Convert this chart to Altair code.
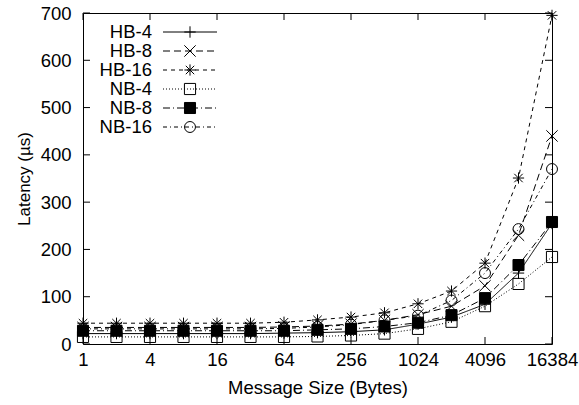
import altair as alt
import pandas as pd

sizes = [1, 2, 4, 8, 16, 32, 64, 128, 256, 512, 1024, 2048, 4096, 8192, 16384]
series_names = ["HB-4", "HB-8", "HB-16", "NB-4", "NB-8", "NB-16"]
hb4 = [22, 22, 22, 22, 22, 22, 23, 24, 26, 30, 42, 57, 84, 150, 255]
hb8 = [35, 35, 35, 35, 35, 35, 36, 38, 42, 50, 62, 80, 123, 230, 440]
hb16 = [44, 44, 44, 44, 44, 44, 46, 51, 57, 66, 85, 112, 171, 351, 695]
nb4 = [15, 15, 15, 15, 15, 15, 15, 16, 18, 22, 32, 47, 80, 127, 184]
nb8 = [28, 28, 28, 28, 28, 28, 28, 30, 32, 37, 45, 61, 97, 167, 258]
nb16 = [32, 32, 32, 32, 32, 32, 33, 36, 41, 50, 60, 92, 150, 243, 370]
x_ticks = [1, 4, 16, 64, 256, 1024, 4096, 16384]
y_ticks = [0, 100, 200, 300, 400, 500, 600, 700]

values = [hb4, hb8, hb16, nb4, nb8, nb16]
rows = []
for name, vals in zip(series_names, values):
    for s, v in zip(sizes, vals):
        rows.append({"series": name, "size": s, "latency": v})
df = pd.DataFrame(rows)
legend_df = pd.DataFrame({"series": series_names})
xt_df = pd.DataFrame({"x": x_ticks})
yt_df = pd.DataFrame({"y": y_ticks})

W, H = 469, 331
FONT = "Liberation Sans"
FS = 18.5

shapes = [
    "M-1,0L1,0M0,-1L0,1",
    "M-1,-1L1,1M-1,1L1,-1",
    "M-1,0L1,0M0,-1L0,1M-0.75,-0.75L0.75,0.75M-0.75,0.75L0.75,-0.75",
    "square",
    "square",
    "circle",
]
dashes = [[1, 0], [7, 4], [4, 4], [1, 2], [7, 3, 1, 3], [4, 3, 1, 3]]
fills = ["transparent", "transparent", "transparent", "transparent", "black", "transparent"]
msizes = [130, 120, 130, 100, 95, 115]

xscale = alt.Scale(type="log", base=2, domain=[1, 16384], nice=False)
yscale = alt.Scale(domain=[0, 700], nice=False)
shape_enc = alt.Shape("series:N", scale=alt.Scale(domain=series_names, range=shapes), legend=None)
dash_enc = alt.StrokeDash("series:N", scale=alt.Scale(domain=series_names, range=dashes), legend=None)
fill_enc = alt.Fill("series:N", scale=alt.Scale(domain=series_names, range=fills), legend=None)
size_enc = alt.Size("series:N", scale=alt.Scale(domain=series_names, range=msizes), legend=None)

base = alt.Chart(df).encode(
    x=alt.X("size:Q", scale=xscale,
            axis=alt.Axis(values=x_ticks, format="d", title="Message Size (Bytes)",
                          labelPadding=6, titlePadding=10, labelFlush=False)),
    y=alt.Y("latency:Q", scale=yscale,
            axis=alt.Axis(values=y_ticks, title="Latency (\u00b5s)", labelPadding=12,
                          titlePadding=7, titleFontSize=17, labelFlush=False)),
)
lines = base.mark_line(color="black", strokeWidth=1, clip=True).encode(
    detail="series:N", strokeDash=dash_enc
)
points = base.mark_point(filled=True, stroke="black", strokeWidth=1, opacity=1).encode(
    shape=shape_enc, fill=fill_enc, size=size_enc
)

tl = 7
xt_bot = alt.Chart(xt_df).mark_rule(color="black").encode(
    x=alt.X("x:Q", scale=xscale), y=alt.value(H), y2=alt.value(H - tl))
xt_top = alt.Chart(xt_df).mark_rule(color="black").encode(
    x=alt.X("x:Q", scale=xscale), y=alt.value(0), y2=alt.value(tl))
yt_left = alt.Chart(yt_df).mark_rule(color="black").encode(
    y=alt.Y("y:Q", scale=yscale), x=alt.value(0), x2=alt.value(tl))
yt_right = alt.Chart(yt_df).mark_rule(color="black").encode(
    y=alt.Y("y:Q", scale=yscale), x=alt.value(W), x2=alt.value(W - tl))

main = alt.layer(lines, points, xt_bot, xt_top, yt_left, yt_right)

lscale = alt.Scale(type="point", domain=series_names, range=[19, 114], padding=0)
ly = alt.Y("series:N", scale=lscale, axis=None)
leg_text = alt.Chart(legend_df).mark_text(
    align="right", baseline="middle", font=FONT, fontSize=FS, color="black"
).encode(y=ly, x=alt.value(69), text="series:N")
leg_line = alt.Chart(legend_df).mark_rule(color="black", strokeWidth=1).encode(
    y=ly, x=alt.value(80), x2=alt.value(134), strokeDash=dash_enc)
leg_pt = alt.Chart(legend_df).mark_point(filled=True, stroke="black", strokeWidth=1, opacity=1).encode(
    y=ly, x=alt.value(107), shape=shape_enc, fill=fill_enc, size=size_enc)
legend = alt.layer(leg_text, leg_line, leg_pt)

chart = alt.layer(main, legend).resolve_scale(y="independent").properties(
    width=W, height=H,
    padding={"left": 83, "top": 13, "right": 27, "bottom": 61},
    autosize="none",
    background="white",
).configure_view(stroke="black", strokeWidth=1).configure_axis(
    domain=False, ticks=False, grid=False,
    labelFont=FONT, labelFontSize=FS, labelColor="black",
    titleFont=FONT, titleFontSize=FS, titleColor="black", titleFontWeight="normal",
)

chart.save("out.html", embed_options={"renderer": "svg", "actions": False})
